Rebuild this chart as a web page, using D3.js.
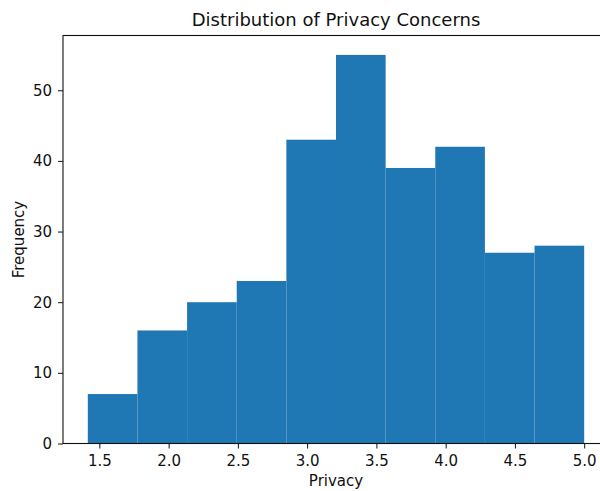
<!DOCTYPE html>
<html>
<head>
<meta charset="utf-8">
<script src="https://cdn.jsdelivr.net/npm/d3@7"></script>
<style>
  html, body { margin: 0; padding: 0; background: #fff; }
  svg { display: block; font-family: "DejaVu Sans", sans-serif; }
</style>
</head>
<body>
<svg id="chart" width="600" height="491"></svg>
<script>
// ---- data ----
const binEdges = [1.4167, 1.775, 2.1333, 2.4917, 2.85, 3.2083, 3.5667, 3.925, 4.2833, 4.6417, 5.0];
const counts = [7, 16, 20, 23, 43, 55, 39, 42, 27, 28];
const xTicks = [1.5, 2.0, 2.5, 3.0, 3.5, 4.0, 4.5, 5.0];
const yTicks = [0, 10, 20, 30, 40, 50];
const titleText = "Distribution of Privacy Concerns";
const xLabel = "Privacy";
const yLabel = "Frequency";

// ---- layout ----
(function () {
const svg = d3.select("#chart");
const mLeft = 63, mRight = 609, mTop = 35.5, mBottom = 443.5;

const xMin = binEdges[0], xMax = binEdges[binEdges.length - 1];
const xPad = (xMax - xMin) * 0.05;
const yMaxData = d3.max(counts);

const x = d3.scaleLinear().domain([xMin - xPad, xMax + xPad]).range([mLeft, mRight]);
const y = d3.scaleLinear().domain([0, yMaxData * 1.05]).range([mBottom, mTop]);

const bins = counts.map((c, i) => ({ x0: binEdges[i], x1: binEdges[i + 1], c }));

// bars
svg.append("g").selectAll("rect").data(bins).join("rect")
  .attr("x", d => x(d.x0))
  .attr("width", d => x(d.x1) - x(d.x0))
  .attr("y", d => y(d.c))
  .attr("height", d => y(0) - y(d.c))
  .attr("fill", "#1f77b4");

// x axis
const xAxis = svg.append("g").attr("transform", `translate(0,${mBottom})`)
  .call(d3.axisBottom(x).tickValues(xTicks).tickFormat(d3.format(".1f")).tickSize(5).tickPadding(6.5).tickSizeOuter(0));
xAxis.select(".domain").remove();
xAxis.selectAll("text").attr("font-size", 15).attr("font-family", "DejaVu Sans").attr("fill", "#111");
xAxis.selectAll("line").attr("stroke", "#111");

// y axis
const yAxis = svg.append("g").attr("transform", `translate(${mLeft},0)`)
  .call(d3.axisLeft(y).tickValues(yTicks).tickFormat(d3.format("d")).tickSize(5).tickPadding(6).tickSizeOuter(0));
yAxis.select(".domain").remove();
yAxis.selectAll("text").attr("font-size", 15).attr("font-family", "DejaVu Sans").attr("fill", "#111");
yAxis.selectAll("line").attr("stroke", "#111");

// spines
svg.append("rect")
  .attr("x", mLeft).attr("y", mTop)
  .attr("width", mRight - mLeft).attr("height", mBottom - mTop)
  .attr("fill", "none").attr("stroke", "#111").attr("stroke-width", 1.1);

// title
svg.append("text")
  .attr("x", (mLeft + mRight) / 2).attr("y", 25.5)
  .attr("text-anchor", "middle")
  .attr("font-size", 18).attr("fill", "#111")
  .text(titleText);

// x label
svg.append("text")
  .attr("x", (mLeft + mRight) / 2).attr("y", 486)
  .attr("text-anchor", "middle")
  .attr("font-size", 15).attr("fill", "#111")
  .text(xLabel);

// y label
svg.append("text")
  .attr("transform", `translate(23.5,${(mTop + mBottom) / 2}) rotate(-90)`)
  .attr("text-anchor", "middle")
  .attr("font-size", 15).attr("fill", "#111")
  .text(yLabel);
})();
</script>
</body>
</html>
